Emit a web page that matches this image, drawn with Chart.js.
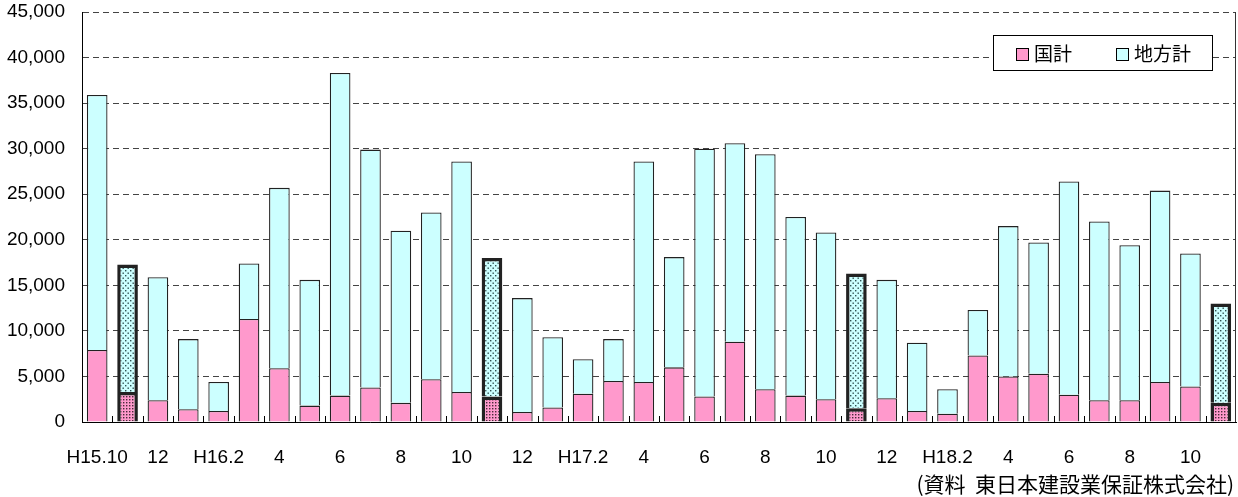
<!DOCTYPE html>
<html>
<head>
<meta charset="utf-8">
<script src="https://cdn.jsdelivr.net/npm/chart.js@4.4.1/dist/chart.umd.min.js"></script>
<style>
  html, body { margin: 0; padding: 0; background: #ffffff; }
  #wrap { width: 1238px; height: 497px; position: relative; }
</style>
</head>
<body>
<div id="wrap"><canvas id="chart" width="1238" height="497"></canvas></div>
<script>
// Monthly categories, H15.10 through H18.11
const months = [
  'H15.10','H15.11','H15.12','H16.1','H16.2','H16.3','H16.4','H16.5','H16.6','H16.7',
  'H16.8','H16.9','H16.10','H16.11','H16.12','H17.1','H17.2','H17.3','H17.4','H17.5',
  'H17.6','H17.7','H17.8','H17.9','H17.10','H17.11','H17.12','H18.1','H18.2','H18.3',
  'H18.4','H18.5','H18.6','H18.7','H18.8','H18.9','H18.10','H18.11'
];

// Axis labels shown under every other month
const tickLabels = [
  'H15.10','','12','','H16.2','','4','','6','',
  '8','','10','','12','','H17.2','','4','',
  '6','','8','','10','','12','','H18.2','',
  '4','','6','','8','','10',''
];

// 国計 (national) amounts
const national = [
  7900, 3300, 2400, 1400, 1200, 11300, 5900, 1800, 2900, 3800,
  2100, 4700, 3300, 2800, 1100, 1600, 3100, 4500, 4400, 6000,
  2800, 8800, 3600, 2900, 2500, 1500, 2600, 1200, 900, 7300,
  5000, 5300, 3000, 2400, 2400, 4400, 3900, 2100
];

// 地方計 (local) amounts, stacked on top of the national amounts
const local = [
  28000, 14000, 13500, 7700, 3200, 6100, 19800, 13800, 35400, 26100,
  18900, 18300, 25300, 15200, 12500, 7700, 3800, 4600, 24200, 12100,
  27200, 21800, 25800, 19600, 18300, 14800, 13000, 7500, 2700, 5000,
  16500, 14400, 23400, 19600, 17000, 21000, 14600, 10900
];

// Months drawn with a heavy outline and dotted fill
const emphasized = [1, 13, 25, 37];

const yTicks = [0, 5000, 10000, 15000, 20000, 25000, 30000, 35000, 40000, 45000];

const seriesNames = ['国計', '地方計'];
const PINK = '#FF99CC';
const CYAN = '#CCFFFF';

function dotPattern(bg, dot, size, stagger) {
  const c = document.createElement('canvas');
  c.width = size; c.height = size;
  const g = c.getContext('2d');
  g.fillStyle = bg;
  g.fillRect(0, 0, size, size);
  g.fillStyle = dot;
  g.fillRect(0, 0, 1.4, 1.4);
  if (stagger) g.fillRect(size / 2, size / 2, 1.4, 1.4);
  return g.createPattern(c, 'repeat');
}

const ctx = document.getElementById('chart').getContext('2d');
const pinkDots = dotPattern(PINK, '#4a2a3a', 3, false);
const cyanDots = dotPattern(CYAN, '#2f4f4f', 5, true);

const isEm = i => emphasized.includes(i);

const latinFont = "'Liberation Sans', Arial, sans-serif";
const cjkFont = "'Noto Sans CJK JP', sans-serif";

// Short inward tick marks between categories, right-hand frame
const framePlugin = {
  id: 'frame',
  afterDatasetsDraw(chart) {
    const { ctx, chartArea, scales } = chart;
    const x = scales.x;
    ctx.save();
    ctx.strokeStyle = '#000';
    ctx.lineWidth = 1;
    ctx.beginPath();
    for (let i = 0; i < months.length - 1; i++) {
      const px = Math.round((x.getPixelForValue(i) + x.getPixelForValue(i + 1)) / 2) + 0.5;
      ctx.moveTo(px, chartArea.bottom);
      ctx.lineTo(px, chartArea.bottom - 6);
    }
    ctx.stroke();
    ctx.strokeStyle = '#333';
    ctx.beginPath();
    ctx.moveTo(Math.round(chartArea.right) - 0.5, chartArea.top);
    ctx.lineTo(Math.round(chartArea.right) - 0.5, chartArea.bottom);
    ctx.stroke();
    ctx.restore();
  }
};

// Boxed legend inside the plot and the source note
const notesPlugin = {
  id: 'notes',
  afterDraw(chart) {
    const { ctx } = chart;
    ctx.save();
    const bx = 993.5, by = 35.5, bw = 219, bh = 35;
    ctx.fillStyle = '#fff';
    ctx.fillRect(bx, by, bw, bh);
    ctx.strokeStyle = '#000';
    ctx.lineWidth = 1;
    ctx.strokeRect(bx, by, bw, bh);
    const items = [
      { x: 1016, color: PINK, text: seriesNames[0] },
      { x: 1116, color: CYAN, text: seriesNames[1] }
    ];
    ctx.font = '19px ' + cjkFont;
    ctx.textBaseline = 'middle';
    ctx.textAlign = 'left';
    items.forEach(it => {
      ctx.fillStyle = it.color;
      ctx.fillRect(it.x + 0.5, 48.5, 12, 12);
      ctx.strokeStyle = '#000';
      ctx.strokeRect(it.x + 0.5, 48.5, 12, 12);
      ctx.fillStyle = '#000';
      ctx.fillText(it.text, it.x + 18, 54);
    });
    ctx.font = '21px ' + cjkFont;
    ctx.textAlign = 'right';
    ctx.textBaseline = 'middle';
    ctx.fillStyle = '#000';
    ctx.fillText('(資料  東日本建設業保証株式会社)', 1234, 484);
    ctx.restore();
  }
};

new Chart(ctx, {
  type: 'bar',
  data: {
    labels: months,
    datasets: [
      {
        label: seriesNames[0],
        data: national,
        backgroundColor: c => isEm(c.dataIndex) ? pinkDots : PINK,
        borderColor: '#222',
        borderWidth: c => isEm(c.dataIndex) ? 3.5 : 1.3,
        barPercentage: 0.68,
        categoryPercentage: 1.0
      },
      {
        label: seriesNames[1],
        data: local,
        backgroundColor: c => isEm(c.dataIndex) ? cyanDots : CYAN,
        borderColor: '#222',
        borderWidth: c => isEm(c.dataIndex) ? 3.5 : 1.3,
        barPercentage: 0.68,
        categoryPercentage: 1.0
      }
    ]
  },
  options: {
    responsive: false,
    animation: false,
    devicePixelRatio: 1,
    layout: { padding: { top: 12, right: 2, bottom: 0, left: 0 } },
    plugins: {
      legend: { display: false },
      tooltip: { enabled: false }
    },
    scales: {
      x: {
        stacked: true,
        grid: { display: false, drawTicks: false },
        border: { display: true, color: '#000', width: 1 },
        ticks: {
          autoSkip: false,
          maxRotation: 0,
          padding: 24,
          color: '#000',
          font: { family: latinFont, size: 19 },
          callback: (v, i) => tickLabels[i]
        },
        afterFit: s => { s.height = 75; s.paddingLeft = 0; s.paddingRight = 0; }
      },
      y: {
        stacked: true,
        min: 0,
        max: 45000,
        afterBuildTicks: s => { s.ticks = yTicks.map(v => ({ value: v })); },
        grid: {
          color: '#444',
          lineWidth: 1,
          drawTicks: false
        },
        border: { display: true, color: '#000', width: 1, dash: [6, 4] },
        ticks: {
          padding: 17,
          color: '#000',
          font: { family: latinFont, size: 19 },
          callback: v => v.toLocaleString('en-US')
        },
        afterFit: s => { s.width = 82; s.paddingTop = 0; s.paddingBottom = 0; }
      }
    }
  },
  plugins: [framePlugin, notesPlugin]
});
</script>
</body>
</html>
